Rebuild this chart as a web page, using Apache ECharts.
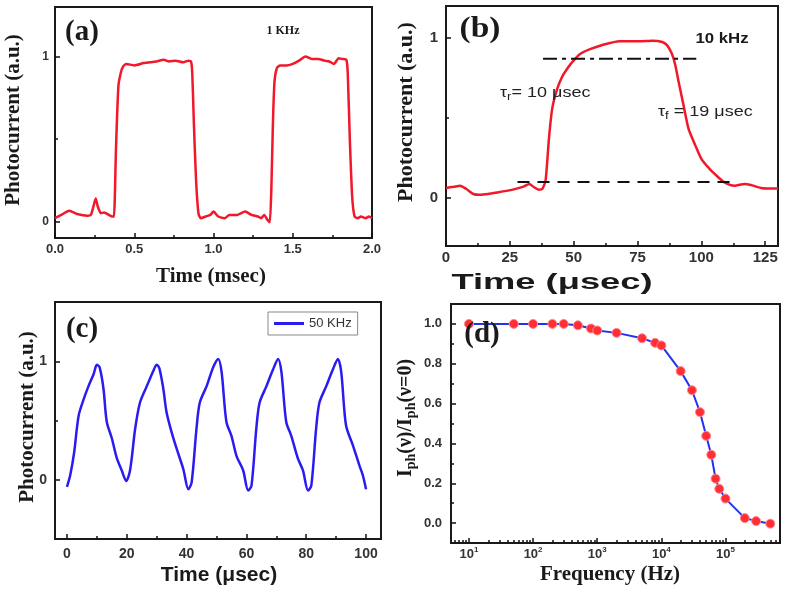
<!DOCTYPE html>
<html><head><meta charset="utf-8">
<script src="https://cdn.jsdelivr.net/npm/echarts@6/dist/echarts.min.js"></script>
<style>html,body{margin:0;padding:0;background:#fff}#c{width:787px;height:596px}</style>
</head><body><div id="c"></div>
<script>
// ---- Panel (a): 1 KHz ----
const timeA = [0, 0.04, 0.09, 0.14, 0.205, 0.226, 0.245, 0.257, 0.27, 0.29, 0.31, 0.34, 0.362, 0.372, 0.385, 0.40, 0.415, 0.43, 0.45, 0.5, 0.56, 0.64, 0.686, 0.72, 0.76, 0.81, 0.843, 0.858, 0.866, 0.876, 0.89, 0.905, 0.92, 0.95, 0.98, 1.0, 1.03, 1.07, 1.1, 1.15, 1.2, 1.24, 1.28, 1.3, 1.32, 1.34, 1.355, 1.365, 1.375, 1.385, 1.40, 1.42, 1.46, 1.5, 1.54, 1.58, 1.62, 1.66, 1.7, 1.73, 1.76, 1.79, 1.81, 1.838, 1.847, 1.86, 1.875, 1.89, 1.91, 1.93, 1.96, 1.98, 2.0];
const currA = [0.02, 0.04, 0.065, 0.045, 0.035, 0.04, 0.10, 0.14, 0.09, 0.05, 0.055, 0.04, 0.03, 0.03, 0.45, 0.82, 0.90, 0.94, 0.955, 0.946, 0.96, 0.97, 0.98, 0.97, 0.975, 0.965, 0.975, 0.97, 0.9, 0.6, 0.25, 0.05, 0.02, 0.03, 0.04, 0.06, 0.03, 0.02, 0.04, 0.04, 0.06, 0.04, 0.03, 0.02, 0.04, 0.01, -0.005, 0.2, 0.6, 0.85, 0.93, 0.945, 0.945, 0.955, 0.975, 1.0, 0.985, 0.985, 0.975, 0.97, 0.955, 0.99, 0.985, 0.98, 0.9, 0.5, 0.15, 0.03, 0.02, 0.03, 0.02, 0.03, 0.02];

// ---- Panel (b): 10 kHz ----
const timeB = [0, 3, 5.5, 8, 10.7, 13.3, 16.5, 20.3, 24.2, 28, 30.6, 32.6, 34.5, 36.4, 37.7, 39, 40.3, 41.6, 43.5, 45.4, 48, 50, 52.5, 56.4, 61.5, 68, 75.7, 80.8, 84.7, 86.6, 88.5, 89.8, 91.1, 93, 95, 97.6, 100, 103.3, 106.6, 109, 113, 117, 119.4, 123.3, 127, 130];
const currB = [0.063, 0.07, 0.077, 0.056, 0.025, 0.02, 0.025, 0.035, 0.046, 0.06, 0.073, 0.088, 0.067, 0.052, 0.056, 0.11, 0.37, 0.56, 0.68, 0.755, 0.82, 0.86, 0.90, 0.93, 0.958, 0.98, 0.98, 0.983, 0.975, 0.954, 0.90, 0.83, 0.725, 0.58, 0.43, 0.33, 0.244, 0.18, 0.13, 0.098, 0.077, 0.088, 0.081, 0.063, 0.06, 0.06];
const lowLevelX = [28, 112];
const lowLevelY = 0.1;
const highLevelX = [38, 98];
const highLevelY = 0.87;

// ---- Panel (c): 50 KHz ----
const timeC = [0, 1.1, 2.4, 3.9, 5.6, 7.2, 8.9, 10, 10.9, 12.2, 13.3, 15, 16.7, 18.3, 19.8, 21.1, 22.8, 24.4, 26.7, 28.9, 30, 30.9, 32.2, 33.3, 35, 36.7, 38.9, 40.6, 41.7, 43.3, 44.4, 46.7, 48.9, 50.6, 51.7, 53.3, 55, 56.7, 58.9, 60.6, 61.7, 63.3, 64.4, 66.7, 68.9, 70.6, 71.7, 73.3, 75, 77.2, 78.9, 80.6, 81.7, 83.3, 84.4, 86.7, 88.9, 90.6, 91.7, 93.3, 95.6, 97.8, 98.9, 100];
const currC = [-0.06, 0.04, 0.23, 0.54, 0.68, 0.79, 0.89, 0.97, 0.95, 0.77, 0.49, 0.35, 0.18, 0.08, -0.01, 0.08, 0.43, 0.65, 0.79, 0.92, 0.97, 0.94, 0.77, 0.57, 0.40, 0.26, 0.09, -0.08, -0.02, 0.43, 0.65, 0.79, 0.95, 1.02, 0.91, 0.49, 0.37, 0.2, 0.08, -0.09, -0.05, 0.43, 0.65, 0.79, 0.93, 1.02, 0.91, 0.49, 0.37, 0.18, 0.08, -0.09, -0.05, 0.43, 0.65, 0.79, 0.93, 1.02, 0.91, 0.46, 0.29, 0.12, 0.04, -0.08];

// ---- Panel (d): frequency response ----
const freqD = [10, 50, 100, 200, 300, 500, 800, 1000, 2000, 5000, 8000, 10000, 20000, 30000, 40000, 50000, 60000, 70000, 80000, 100000, 200000, 300000, 500000];
const respD = [1.0, 1.0, 1.0, 1.0, 1.0, 0.993, 0.977, 0.967, 0.955, 0.928, 0.905, 0.892, 0.763, 0.667, 0.557, 0.438, 0.343, 0.223, 0.172, 0.123, 0.025, 0.01, -0.003];

// ---- tick labels ----
const ticksAx = [0, 0.5, 1.0, 1.5, 2.0], minorAx = [0.25, 0.75, 1.25, 1.75];
const ticksAy = [0, 1], minorAy = [0.5];
const ticksBx = [0, 25, 50, 75, 100, 125], minorBx = [12.5, 37.5, 62.5, 87.5, 112.5];
const ticksBy = [0, 1], minorBy = [0.5];
const ticksCx = [0, 20, 40, 60, 80, 100], minorCx = [10, 30, 50, 70, 90];
const ticksCy = [0, 1], minorCy = [0.5];
const ticksDxExp = [1, 2, 3, 4, 5];
const ticksDy = [0, 0.2, 0.4, 0.6, 0.8, 1.0], minorDy = [0.1, 0.3, 0.5, 0.7, 0.9];

const SERIF = '"Liberation Serif","Times New Roman",serif';
const SANS = '"Liberation Sans",Arial,sans-serif';
const zip = (a, b) => a.map((v, i) => [v, b[i]]);
const minorDx = [];
for (let e = 0; e <= 5; e++) for (let m = 2; m <= 9; m++) { const v = e + Math.log10(m); if (v > 0.72 && v < 5.85) minorDx.push(v); }

function axes(dim, gi, min, max, majors, minors, lab) {
  const pos = dim === 'x' ? 'bottom' : 'left';
  const main = {
    type: 'value', gridIndex: gi, min: min, max: max, position: pos,
    axisLine: { show: false, onZero: false }, splitLine: { show: false },
    axisTick: { show: true, inside: true, length: 5, customValues: majors, lineStyle: { color: '#111', width: 1.5 } },
    axisLabel: Object.assign({ customValues: majors, fontFamily: SANS, fontWeight: 'bold', color: '#333', fontSize: 13 }, lab)
  };
  const minor = {
    type: 'value', gridIndex: gi, min: min, max: max, position: pos,
    axisLine: { show: false, onZero: false }, splitLine: { show: false }, axisLabel: { show: false },
    axisTick: { show: true, inside: true, length: 3, customValues: minors, lineStyle: { color: '#111', width: 1.5 } }
  };
  return [main, minor];
}

const gridStyle = { show: true, borderColor: '#1a1a1a', borderWidth: 2, backgroundColor: '#fff' };
const grids = [
  Object.assign({ left: 55, top: 7, width: 317, height: 231 }, gridStyle),
  Object.assign({ left: 446, top: 6, width: 332, height: 240 }, gridStyle),
  Object.assign({ left: 55, top: 302, width: 326, height: 237 }, gridStyle),
  Object.assign({ left: 451, top: 304, width: 329, height: 239 }, gridStyle)
];

const xAxes = [].concat(
  axes('x', 0, 0, 2, ticksAx, minorAx, { margin: 5, formatter: v => v.toFixed(1) }),
  axes('x', 1, 0, 130, ticksBx, minorBx, { margin: 4, fontSize: 15 }),
  axes('x', 2, -4, 105, ticksCx, minorCx, { margin: 8, fontSize: 14 }),
  axes('x', 3, 0.72, 5.85, ticksDxExp, minorDx, {
    margin: 3, formatter: v => '{b|10}{s|' + Math.round(v) + '}',
    rich: { b: { fontFamily: SANS, fontWeight: 'bold', fontSize: 13, color: '#333' },
            s: { fontFamily: SANS, fontWeight: 'bold', fontSize: 8, color: '#333', padding: [0, 0, 8, 0] } }
  })
);
const yAxes = [].concat(
  axes('y', 0, -0.1, 1.3, ticksAy, minorAy, { margin: 6, fontSize: 12 }),
  axes('y', 1, -0.3, 1.2, ticksBy, minorBy, { margin: 8, fontSize: 15 }),
  axes('y', 2, -0.5, 1.5, ticksCy, minorCy, { margin: 8, fontSize: 14 }),
  axes('y', 3, -0.1, 1.1, ticksDy, minorDy, { margin: 9, formatter: v => v.toFixed(1) })
);

const RED = '#f0182a';
const BLUE = '#2a1cf0';
const series = [
  { type: 'line', xAxisIndex: 0, yAxisIndex: 0, data: zip(timeA, currA), symbol: 'none', smooth: 0.2,
    lineStyle: { color: RED, width: 2.5 }, z: 3 },
  { type: 'line', xAxisIndex: 2, yAxisIndex: 2, data: zip(timeB, currB), symbol: 'none', smooth: 0.2,
    lineStyle: { color: RED, width: 2.5 }, z: 3 },
  { type: 'line', xAxisIndex: 2, yAxisIndex: 2, data: lowLevelX.map(x => [x, lowLevelY]), symbol: 'none',
    lineStyle: { color: '#111', width: 2, type: [12, 8] }, z: 4 },
  { type: 'line', xAxisIndex: 2, yAxisIndex: 2, data: highLevelX.map(x => [x, highLevelY]), symbol: 'none',
    lineStyle: { color: '#111', width: 2, type: [14, 5, 4, 5] }, z: 4 },
  { name: '50 KHz', type: 'line', xAxisIndex: 4, yAxisIndex: 4, data: zip(timeC, currC), symbol: 'none', smooth: 0.3,
    lineStyle: { color: BLUE, width: 2.5 }, itemStyle: { color: BLUE }, z: 3 },
  { type: 'line', xAxisIndex: 6, yAxisIndex: 6, data: freqD.map((f, i) => [Math.log10(f), respD[i]]),
    symbol: 'circle', symbolSize: 9, showSymbol: true,
    lineStyle: { color: '#2233ee', width: 2 },
    itemStyle: { color: '#ff2f35', borderColor: '#ff8a8a', borderWidth: 1 }, z: 3 }
];

function txt(x, y, text, font, size, opts) {
  return Object.assign({
    type: 'text', x: x, y: y, z: 100,
    style: Object.assign({ text: text, fontFamily: font, fontSize: size, fontWeight: 'bold', fill: '#1a1a1a',
      textAlign: 'center', textVerticalAlign: 'middle' }, (opts && opts.style) || {})
  }, (opts && opts.el) || {});
}
const R90 = Math.PI / 2;
const graphic = [
  txt(82, 33, '(a)', SERIF, 29),
  txt(283, 31, '1 KHz', SERIF, 12),
  txt(211, 277, 'Time (msec)', SERIF, 21),
  txt(14, 120, 'Photocurrent (a.u.)', SERIF, 21, { el: { rotation: R90 } }),

  txt(480, 30, '(b)', SERIF, 29, { el: { scaleX: 1.15 } }),
  txt(722, 39, '10 kHz', SANS, 15, { el: { scaleX: 1.12 } }),
  txt(500, 93, '{m|τ}{sub|r}{m|= 10 μsec}', SANS, 15, { style: { textAlign: 'left', rich: {
      m: { fontFamily: SANS, fontSize: 15, fill: '#222' }, sub: { fontFamily: SANS, fontSize: 11, fill: '#222', padding: [8, 0, 0, 0] } } },
      el: { scaleX: 1.2 } }),
  txt(658, 112, '{m|τ}{sub|f}{m| = 19 μsec}', SANS, 15, { style: { textAlign: 'left', rich: {
      m: { fontFamily: SANS, fontSize: 15, fill: '#222' }, sub: { fontFamily: SANS, fontSize: 11, fill: '#222', padding: [8, 0, 0, 0] } } },
      el: { scaleX: 1.2 } }),
  txt(552, 283, 'Time (μsec)', SANS, 22, { el: { scaleX: 1.65 } }),
  txt(406, 112, 'Photocurrent (a.u.)', SERIF, 22, { el: { rotation: R90 } }),

  txt(82, 330, '(c)', SERIF, 29),
  txt(219, 575, 'Time (μsec)', SANS, 21),
  txt(28, 417, 'Photocurrent (a.u.)', SERIF, 21, { el: { rotation: R90 } }),

  txt(482, 335, '(d)', SERIF, 29),
  txt(610, 575, 'Frequency (Hz)', SERIF, 21),
  txt(406, 418, '{m|I}{sub|ph}{m|(ν)/I}{sub|ph}{m|(ν=0)}', SERIF, 20, { el: { rotation: R90 }, style: { rich: {
      m: { fontFamily: SERIF, fontWeight: 'bold', fontSize: 20, fill: '#1a1a1a' },
      sub: { fontFamily: SERIF, fontWeight: 'bold', fontSize: 14, fill: '#1a1a1a', padding: [10, 0, 0, 0] } } } })
];

const chart = echarts.init(document.getElementById('c'), null, { renderer: 'canvas' });
chart.setOption({
  animation: false,
  backgroundColor: '#fff',
  grid: grids,
  xAxis: xAxes,
  yAxis: yAxes,
  legend: {
    data: [{ name: '50 KHz', icon: 'rect' }], left: 268, top: 312, orient: 'horizontal',
    borderColor: '#888', borderWidth: 1, padding: [5, 6], itemWidth: 30, itemHeight: 3,
    textStyle: { fontFamily: SANS, fontSize: 13, color: '#333' }
  },
  series: series,
  graphic: graphic
});
</script>
</body></html>
